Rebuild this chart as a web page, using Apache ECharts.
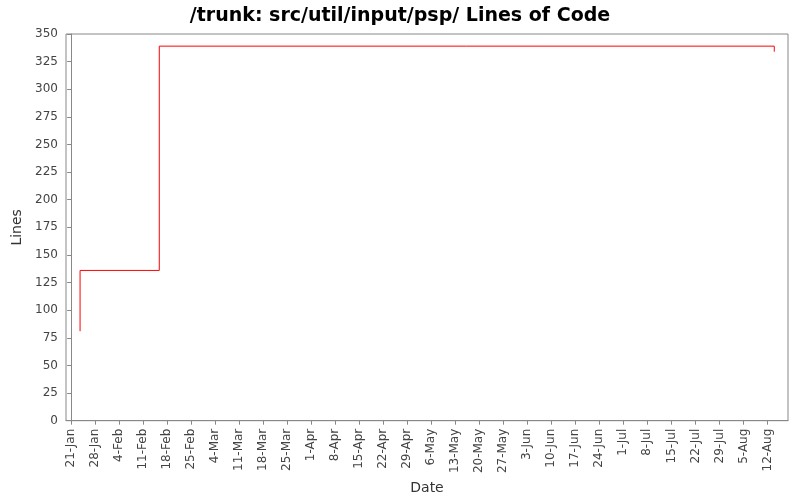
<!DOCTYPE html>
<html>
<head>
<meta charset="utf-8">
<script src="https://cdn.jsdelivr.net/npm/echarts@6/dist/echarts.min.js"></script>
<style>html,body{margin:0;padding:0;background:#fff}#chart{width:800px;height:500px}</style>
</head>
<body>
<div id="chart"></div>
<script>
// days counted from 21-Jan
let tickDays = [0, 7, 14, 21, 28, 35, 42, 49, 56, 63, 70, 77, 84, 91, 98, 105, 112, 119, 126, 133, 140, 147, 154, 161, 168, 175, 182, 189, 196, 203];
let tickLabels = ['21-Jan', '28-Jan', '4-Feb', '11-Feb', '18-Feb', '25-Feb', '4-Mar', '11-Mar', '18-Mar', '25-Mar',
    '1-Apr', '8-Apr', '15-Apr', '22-Apr', '29-Apr', '6-May', '13-May', '20-May', '27-May', '3-Jun',
    '10-Jun', '17-Jun', '24-Jun', '1-Jul', '8-Jul', '15-Jul', '22-Jul', '29-Jul', '5-Aug', '12-Aug'];
let commitDays = [2.6, 25.7, 205, 205];
let commitLines = [81, 136, 339, 334];

let points = commitDays.map((d, i) => [d, commitLines[i]]);

let myChart = echarts.init(document.getElementById('chart'));
let font = 'DejaVu Sans';
myChart.setOption({
    animation: false,
    title: {
        text: '/trunk: src/util/input/psp/ Lines of Code',
        left: 'center', top: 2,
        textStyle: {fontFamily: font, fontSize: 19, fontWeight: 'bold', color: '#000'}
    },
    grid: {left: 66, right: 12, top: 34, bottom: 79, show: true, borderColor: '#888', borderWidth: 1},
    xAxis: {
        type: 'value', min: -1.5, max: 209,
        name: 'Date', nameLocation: 'middle', nameGap: 60,
        nameTextStyle: {fontFamily: font, fontSize: 14, color: '#333'},
        axisLine: {show: true, onZero: false, lineStyle: {color: '#888'}},
        splitLine: {show: false},
        axisTick: {show: true, customValues: tickDays, length: 4, lineStyle: {color: '#888'}},
        axisLabel: {
            customValues: tickDays, rotate: 90, fontFamily: font, fontSize: 12, color: '#444',
            formatter: v => tickLabels[tickDays.indexOf(v)] || ''
        }
    },
    yAxis: {
        type: 'value', min: 0, max: 350, interval: 25,
        name: 'Lines', nameLocation: 'middle', nameGap: 42,
        nameTextStyle: {fontFamily: font, fontSize: 14, color: '#333'},
        axisLine: {show: true, lineStyle: {color: '#888'}},
        splitLine: {show: false},
        axisTick: {show: true, length: 4, lineStyle: {color: '#888'}},
        axisLabel: {fontFamily: font, fontSize: 12, color: '#444'}
    },
    series: [{
        type: 'line', step: 'start', data: points, symbol: 'none',
        lineStyle: {color: '#ff0000', width: 1}
    }]
});
</script>
</body>
</html>
